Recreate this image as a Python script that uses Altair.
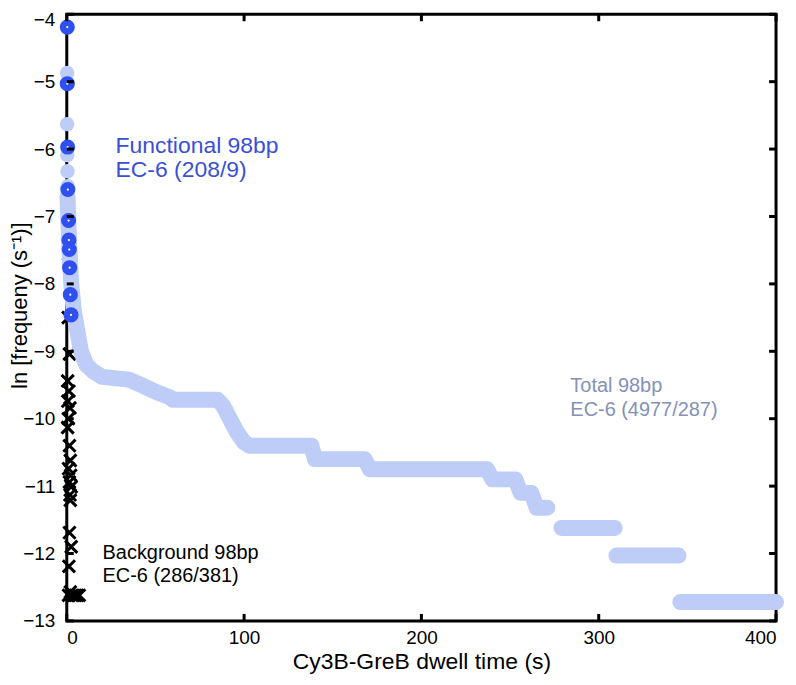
import altair as alt
import pandas as pd

# ---------------- data ----------------
x_ticks = [0, 100, 200, 300, 400]
y_ticks = [-4, -5, -6, -7, -8, -9, -10, -11, -12, -13]

# Functional 98bp EC-6 (blue dots)
func_x = [0.3, 0.3, 0.5, 0.6, 1.0, 1.2, 1.4, 1.6, 2.0, 2.4]
func_y = [-4.19, -5.03, -5.97, -6.60, -7.06, -7.35, -7.49, -7.76, -8.16, -8.46]

# Total 98bp EC-6 (light blue): isolated dots near x = 0
tot_dot_x = [0.2, 0.2, 0.3, 0.4, 0.5]
tot_dot_y = [-4.87, -5.63, -6.09, -6.33, -6.55]

# Total 98bp EC-6: dense band (points, grouped into contiguous pieces)
tot_x = [0.4, 0.8, 1.5, 2.5, 4, 6, 8, 11, 15, 20,
         35, 42, 50, 58, 60, 85, 88, 92, 96, 100,
         103, 138, 140, 168, 171, 237, 240, 253, 256, 262, 265, 271,
         279, 309,
         310, 345,
         346, 400]
tot_y = [-6.7, -7.0, -7.5, -8.0, -8.4, -8.7, -9.0, -9.2, -9.3, -9.38,
         -9.42, -9.5, -9.6, -9.68, -9.72, -9.72, -9.8, -10.0, -10.2, -10.35,
         -10.4, -10.4, -10.6, -10.6, -10.75, -10.75, -10.9, -10.9, -11.1, -11.1, -11.32, -11.32,
         -11.62, -11.62,
         -12.03, -12.03,
         -12.72, -12.72]
tot_piece = [0] * 32 + [1] * 2 + [2] * 2 + [3] * 2

# Background 98bp EC-6 (black crosses)
bg_x = [1.0, 0.8, 1.5, 0.5, 1.2, 0.6, 1.8, 0.9, 0.5, 1.5, 2.0, 1.0, 2.2, 1.5, 2.5, 1.8, 2.0,
        1.5, 2.5, 1.2, 2.0, 1, 3, 4, 5, 6, 7]
bg_y = [-7.56, -8.50, -9.04, -9.44, -9.59, -9.74, -9.84, -10.0, -10.13, -10.4, -10.62, -10.74,
        -10.84, -10.94, -11.01, -11.13, -11.21, -11.69, -11.9, -12.19, -12.57,
        -12.62, -12.62, -12.62, -12.62, -12.62, -12.62]

labels = ["Functional 98bp", "EC-6 (208/9)",
          "Total 98bp", "EC-6 (4977/287)",
          "Background 98bp", "EC-6 (286/381)"]
label_x = [27.5, 27.5, 284, 284, 20.2, 20.2]
label_y = [-5.96, -6.31, -9.52, -9.87, -11.99, -12.34]
label_size = [23, 23, 20, 20, 20, 20]
label_color = ["#3a4fd6", "#3a4fd6", "#8391b8", "#8391b8", "#000000", "#000000"]

# ---------------- tables ----------------
func_df = pd.DataFrame({"t": func_x, "f": func_y})
tdot_df = pd.DataFrame({"t": tot_dot_x, "f": tot_dot_y})
tot_df = pd.DataFrame({"t": tot_x, "f": tot_y, "piece": tot_piece,
                       "idx": list(range(len(tot_x)))})
bg_df = pd.DataFrame({"t": bg_x, "f": bg_y})
lab_df = pd.DataFrame({"label": labels, "t": label_x, "f": label_y,
                       "c": label_color, "s": label_size})
xt_df = pd.DataFrame({"t": x_ticks})
yt_df = pd.DataFrame({"f": y_ticks})

TOP = 13
W, H = 712, 622 - TOP
FONT = "Liberation Sans"
LIGHT = "#bdcdf7"
BLUE = "#2f4ff0"

xscale = alt.Scale(domain=[0, 400], nice=False, zero=False)
yscale = alt.Scale(domain=[-13, -4], nice=False, zero=False)

xaxis = alt.Axis(values=x_ticks, format="d", tickSize=0, domain=False, grid=False,
                 labelPadding=8, labelFontSize=19, labelFont=FONT, labelColor="#000",
                 title="Cy3B-GreB dwell time (s)", titleFontSize=23, titleFont=FONT,
                 titleFontWeight="normal", titleColor="#000", titleY=41,
                 titleBaseline="middle")
yaxis = alt.Axis(values=y_ticks, format="d", tickSize=0, domain=False, grid=False,
                 labelPadding=12, labelFontSize=19, labelFont=FONT, labelColor="#000",
                 labelOffset={"condition": {"test": "datum.value === -4", "value": 5},
                              "value": 0},
                 title="ln [frequeny (s\u207b\u00b9)]", titleFontSize=22, titleFont=FONT,
                 titleFontWeight="normal", titleColor="#000", titleX=-47,
                 titleY=305 - TOP, titleAngle=270, titleAlign="center",
                 titleBaseline="middle")

X = alt.X("t:Q", scale=xscale, axis=xaxis)
Y = alt.Y("f:Q", scale=yscale, axis=yaxis)

bg = alt.Chart(bg_df).mark_point(
    shape="M-1,-1L1,1M-1,1L1,-1", size=150, filled=False, strokeWidth=3,
    color="#000", opacity=1
).encode(x=X, y=Y)

band = alt.Chart(tot_df).mark_line(
    strokeWidth=16, strokeCap="round", strokeJoin="round", color=LIGHT
).encode(x=X, y=Y, detail="piece:N", order="idx:Q")

tdots = alt.Chart(tdot_df).mark_circle(size=210, color=LIGHT, opacity=1).encode(x=X, y=Y)

fdots = alt.Chart(func_df).mark_circle(size=230, color=BLUE, opacity=1).encode(x=X, y=Y)
fcent = alt.Chart(func_df).mark_circle(size=5, color="#ffffff", opacity=1).encode(x=X, y=Y)

texts = alt.Chart(lab_df).mark_text(
    align="left", baseline="middle", font=FONT
).encode(x=X, y=Y, text="label:N", color=alt.Color("c:N", scale=None),
         size=alt.Size("s:Q", scale=None))

tick_kw = dict(color="#000", strokeWidth=3)
bt = alt.Chart(xt_df).mark_rule(**tick_kw).encode(x=X, y=alt.value(H), y2=alt.value(H - 7))
tt = alt.Chart(xt_df).mark_rule(**tick_kw).encode(x=X, y=alt.value(0), y2=alt.value(7))
lt = alt.Chart(yt_df).mark_rule(**tick_kw).encode(y=Y, x=alt.value(0), x2=alt.value(7))
rt = alt.Chart(yt_df).mark_rule(**tick_kw).encode(y=Y, x=alt.value(W - 7), x2=alt.value(W))

chart = alt.layer(bg, band, tdots, fdots, fcent, texts, bt, tt, lt, rt).properties(
    width=W, height=H,
    autosize=alt.AutoSizeParams(type="none"),
    padding={"left": 59, "top": TOP - 8, "right": 12, "bottom": 55},
    background="#ffffff",
).configure_view(stroke="#000000", strokeWidth=3)

chart.save("out.html", embed_options={"renderer": "svg", "actions": False})
